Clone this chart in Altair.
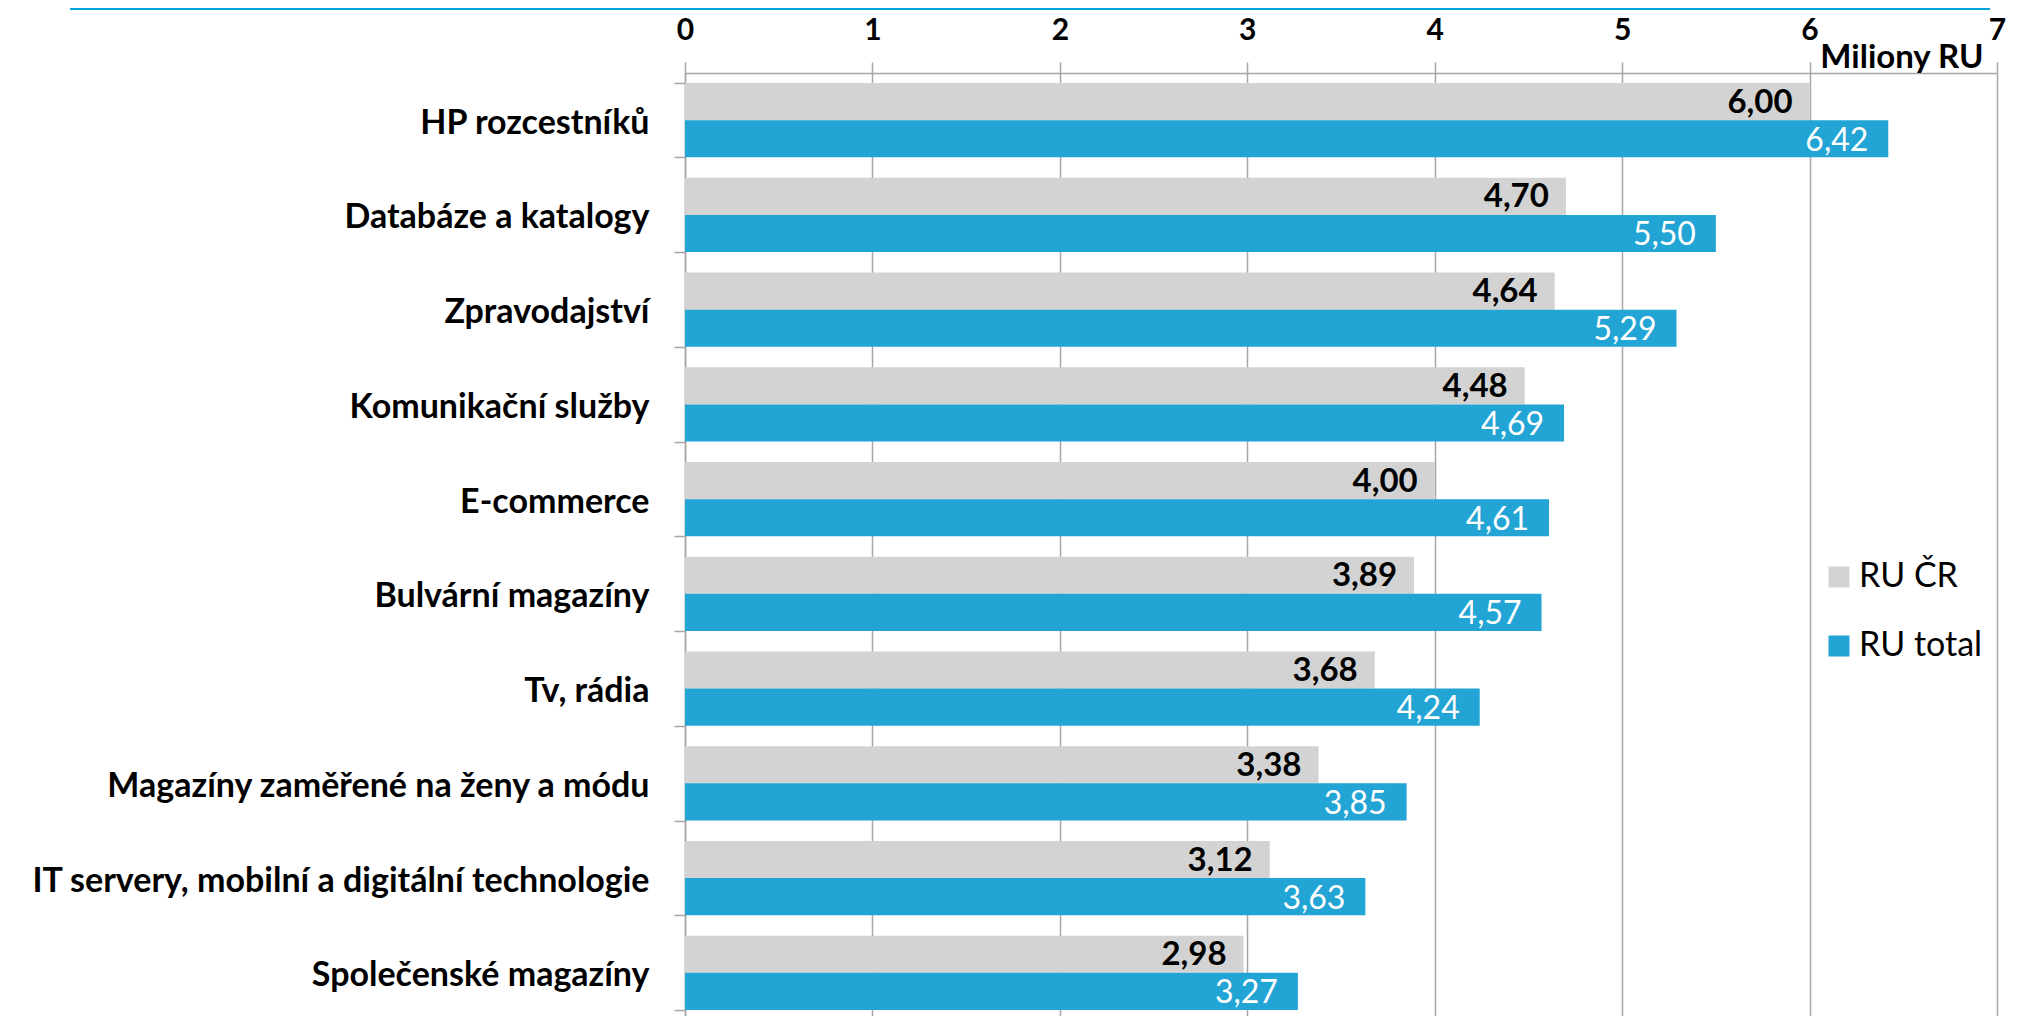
import altair as alt
import pandas as pd

categories = [
    "HP rozcestníků",
    "Databáze a katalogy",
    "Zpravodajství",
    "Komunikační služby",
    "E-commerce",
    "Bulvární magazíny",
    "Tv, rádia",
    "Magazíny zaměřené na ženy a módu",
    "IT servery, mobilní a digitální technologie",
    "Společenské magazíny",
]
ru_cr = [6.00, 4.70, 4.64, 4.48, 4.00, 3.89, 3.68, 3.38, 3.12, 2.98]
ru_total = [6.42, 5.50, 5.29, 4.69, 4.61, 4.57, 4.24, 3.85, 3.63, 3.27]
series = ["RU ČR", "RU total"]
x_ticks = [0, 1, 2, 3, 4, 5, 6, 7]

rows = []
for c, a, b in zip(categories, ru_cr, ru_total):
    rows.append({"cat": c, "series": series[0], "value": a, "label": f"{a:.2f}".replace(".", ",")})
    rows.append({"cat": c, "series": series[1], "value": b, "label": f"{b:.2f}".replace(".", ",")})
df = pd.DataFrame(rows)

FONT = "Lato"
GRID = "#a6a6a6"

y_enc = alt.Y(
    "cat:N",
    sort=categories,
    scale=alt.Scale(paddingInner=0.215, paddingOuter=0.105),
    axis=alt.Axis(
        title=None,
        labelFont=FONT,
        labelFontSize=34,
        labelFontWeight="bold",
        labelColor="#000000",
        labelPadding=25,
        labelOffset=3,
        labelLimit=800,
        tickBand="extent",
        tickSize=11,
        tickColor=GRID,
        tickWidth=1.5,
        domainColor=GRID,
        domainWidth=1.5,
        grid=False,
    ),
)
x_enc = alt.X(
    "value:Q",
    scale=alt.Scale(domain=[0, 7], nice=False),
    axis=alt.Axis(
        orient="top",
        values=x_ticks,
        format="d",
        title="Miliony RU",
        titleX=1298,
        titleY=-6,
        titleAlign="right",
        titleBaseline="alphabetic",
        titleFont=FONT,
        titleFontSize=33,
        titleFontWeight="bold",
        titleColor="#000000",
        labelFont=FONT,
        labelFontSize=30,
        labelFontWeight="bold",
        labelColor="#000000",
        labelBaseline="alphabetic",
        labelPadding=23,
        labelFlush=False,
        tickSize=11,
        tickColor=GRID,
        tickWidth=1.5,
        domainColor=GRID,
        domainWidth=1.5,
        grid=True,
        gridColor=GRID,
        gridWidth=1.5,
    ),
)
y_off = alt.YOffset("series:N", sort=series, scale=alt.Scale(paddingInner=0, paddingOuter=0))

bars = alt.Chart(df).mark_bar(cornerRadius=0).encode(
    y=y_enc,
    x=x_enc,
    yOffset=y_off,
    color=alt.Color(
        "series:N",
        sort=series,
        scale=alt.Scale(domain=series, range=["#d3d3d3", "#22a4d4"]),
        legend=alt.Legend(
            title=None,
            orient="none",
            legendX=1137,
            legendY=487,
            symbolType="square",
            symbolSize=441,
            symbolStrokeWidth=0,
            symbolOpacity=1,
            labelFont=FONT,
            labelFontSize=34,
            labelColor="#000000",
            labelOffset=3,
            rowPadding=35,
            padding=0,
        ),
    ),
)

labels_cr = alt.Chart(df).transform_filter(alt.datum.series == series[0]).mark_text(
    align="right", baseline="middle", dx=-17, dy=1, font=FONT, fontSize=33, fontWeight="bold", color="#000000"
).encode(
    y=alt.Y("cat:N", sort=categories),
    x=alt.X("value:Q"),
    yOffset=alt.YOffset("series:N", sort=series),
    text="label:N",
)

labels_tot = alt.Chart(df).transform_filter(alt.datum.series == series[1]).mark_text(
    align="right", baseline="middle", dx=-20, dy=2, font=FONT, fontSize=32, fontWeight="normal", color="#ffffff"
).encode(
    y=alt.Y("cat:N", sort=categories),
    x=alt.X("value:Q"),
    yOffset=alt.YOffset("series:N", sort=series),
    text="label:N",
)

top_line = alt.Chart(pd.DataFrame({"k": [0]})).mark_rule(color="#00a3da", strokeWidth=2).encode(
    x=alt.value(-615), x2=alt.value(1305), y=alt.value(-64)
)

chart = (
    alt.layer(bars, labels_cr, labels_tot, top_line)
    .properties(
        width=1312,
        height=947,
        autosize=alt.AutoSizeParams(type="none"),
        padding={"left": 677, "top": 65, "right": 14, "bottom": 10},
    )
    .configure_view(stroke=None)
    .configure(background="#ffffff")
)

chart.save("out.html", embed_options={"renderer": "svg", "actions": False})
